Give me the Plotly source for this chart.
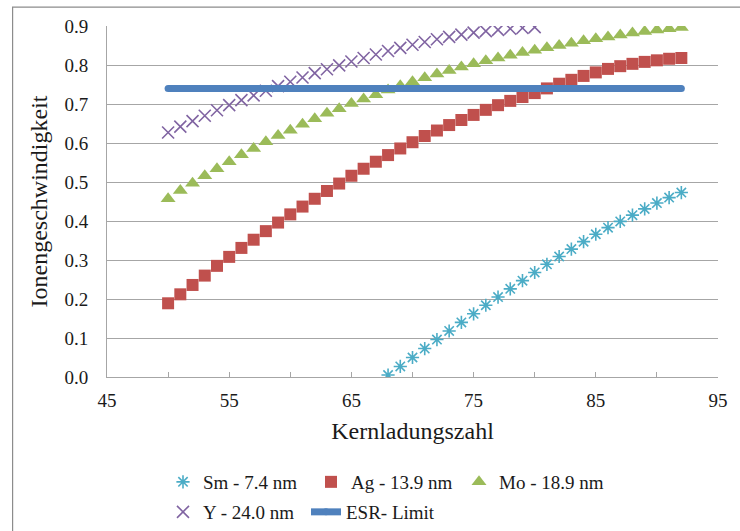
import plotly.graph_objects as go

# ---- data ----
sm_x = list(range(68, 93))
sm_y = [0.005, 0.027, 0.050, 0.073, 0.096, 0.118, 0.140, 0.162, 0.184, 0.205,
        0.226, 0.247, 0.268, 0.289, 0.309, 0.328, 0.347, 0.366, 0.383, 0.399,
        0.415, 0.431, 0.446, 0.460, 0.473]

ag_x = list(range(50, 93))
ag_y = [0.189, 0.212, 0.236, 0.260, 0.285, 0.308, 0.331, 0.352, 0.374, 0.396,
        0.417, 0.437, 0.457, 0.477, 0.496, 0.516, 0.534, 0.552, 0.569, 0.586,
        0.602, 0.618, 0.632, 0.646, 0.659, 0.672, 0.685, 0.697, 0.708, 0.718,
        0.728, 0.740, 0.752, 0.762, 0.772, 0.781, 0.790, 0.797, 0.803, 0.808,
        0.812, 0.816, 0.818]

mo_x = list(range(50, 93))
mo_y = [0.457, 0.478, 0.497, 0.516, 0.534, 0.552, 0.570, 0.586, 0.603, 0.619,
        0.633, 0.648, 0.662, 0.676, 0.688, 0.701, 0.713, 0.724, 0.736, 0.747,
        0.757, 0.767, 0.777, 0.786, 0.795, 0.803, 0.811, 0.818, 0.825, 0.832,
        0.838, 0.844, 0.850, 0.856, 0.862, 0.867, 0.872, 0.877, 0.882, 0.886,
        0.890, 0.893, 0.896]

y_x = list(range(50, 81))
y_y = [0.627, 0.642, 0.656, 0.670, 0.684, 0.697, 0.710, 0.722, 0.734, 0.746,
       0.757, 0.768, 0.779, 0.789, 0.799, 0.809, 0.818, 0.827, 0.836, 0.844,
       0.852, 0.859, 0.866, 0.872, 0.878, 0.883, 0.887, 0.890, 0.893, 0.895,
       0.897]

esr_x = [50, 92]
esr_y = [0.74, 0.74]

x_tickvals = [45, 55, 65, 75, 85, 95]
y_tickvals = [0.0, 0.1, 0.2, 0.3, 0.4, 0.5, 0.6, 0.7, 0.8, 0.9]

# ---- styling ----
FONT = "Liberation Serif, Times New Roman, serif"
C_SM, C_AG, C_MO, C_Y, C_ESR = "#4BACC6", "#C0504D", "#9BBB59", "#8064A2", "#4F81BD"
GRID = "#A6A6A6"
TXT = "#1a1a1a"

fig = go.Figure()
fig.add_trace(go.Scatter(x=sm_x, y=sm_y, mode="markers", name="Sm - 7.4 nm", legend="legend",
                         marker=dict(symbol="asterisk-open", size=11, color=C_SM,
                                     line=dict(color=C_SM, width=1.6))))
fig.add_trace(go.Scatter(x=ag_x, y=ag_y, mode="markers", name="Ag - 13.9 nm", legend="legend",
                         marker=dict(symbol="square", size=12, color=C_AG)))
fig.add_trace(go.Scatter(x=mo_x, y=mo_y, mode="markers", name="Mo - 18.9 nm", legend="legend",
                         marker=dict(symbol="triangle-up", size=13, color=C_MO)))
fig.add_trace(go.Scatter(x=y_x, y=y_y, mode="markers", name="Y - 24.0 nm", legend="legend2",
                         marker=dict(symbol="x-thin-open", size=12, color=C_Y,
                                     line=dict(color=C_Y, width=1.6))))
fig.add_trace(go.Scatter(x=esr_x, y=esr_y, mode="lines+markers", name="ESR- Limit", legend="legend2",
                         line=dict(color=C_ESR, width=7),
                         marker=dict(symbol="circle", size=7, color=C_ESR)))

leg_common = dict(orientation="h", xref="container", yref="container",
                  xanchor="left", yanchor="middle",
                  font=dict(family=FONT, size=19, color=TXT),
                  entrywidthmode="pixels",
                  itemwidth=30, bgcolor="rgba(0,0,0,0)", borderwidth=0)

fig.update_layout(
    width=740, height=531,
    margin=dict(l=107, r=18, t=26, b=154),
    paper_bgcolor="white", plot_bgcolor="white",
    font=dict(family=FONT, color=TXT, size=19),
    showlegend=True,
    legend=dict(leg_common, entrywidth=103, x=163 / 740, y=1 - 482 / 531),
    legend2=dict(leg_common, entrywidth=98, x=163 / 740, y=1 - 512 / 531),
    xaxis=dict(range=[45, 95], tickvals=x_tickvals, ticktext=[str(v) for v in x_tickvals],
               showgrid=False, zeroline=False,
               showline=True, linecolor=GRID, linewidth=1,
               ticks="inside", ticklen=5, tickcolor=GRID,
               minor=dict(dtick=5, tick0=45, ticks="inside", ticklen=5, tickcolor=GRID, showgrid=False),
               tickfont=dict(family=FONT, size=19),
               ticklabelstandoff=6,
               title=dict(text="Kernladungszahl", font=dict(family=FONT, size=24), standoff=12)),
    yaxis=dict(range=[0, 0.9], tickvals=y_tickvals, tickformat=".1f",
               showgrid=True, gridcolor=GRID, gridwidth=1, zeroline=False,
               showline=True, linecolor=GRID, linewidth=1, ticks="",
               tickfont=dict(family=FONT, size=19),
               ticklabelstandoff=14,
               title=dict(text="Ionengeschwindigkeit", font=dict(family=FONT, size=24), standoff=10)),
    shapes=[dict(type="rect", xref="paper", yref="paper",
                 x0=-0.1545, x1=1.04, y0=-0.46, y1=1.054,
                 line=dict(color="#8C8C8C", width=1.2), fillcolor="rgba(0,0,0,0)", layer="below")],
)

fig.write_html("out.html")
